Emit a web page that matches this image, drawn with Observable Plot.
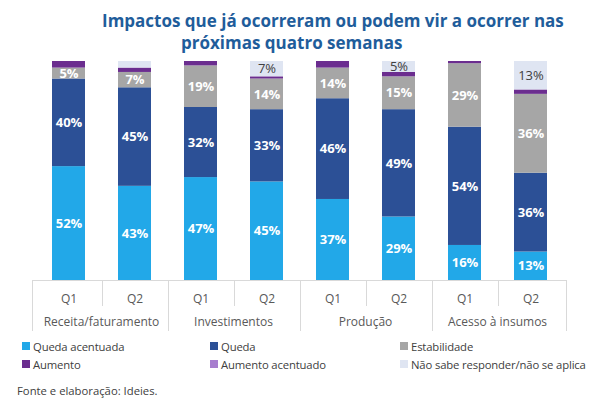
<!DOCTYPE html>
<html><head><meta charset="utf-8">
<script src="https://cdn.jsdelivr.net/npm/d3@7"></script>
<script src="https://cdn.jsdelivr.net/npm/@observablehq/plot@0.6"></script>
<style>
body{margin:0;background:#fff;font-family:"Open Sans",sans-serif;}
#wrap{position:relative;width:600px;height:407px;overflow:hidden;background:#fff;}
#chart{position:absolute;left:0;top:0;}
.title{position:absolute;font-weight:700;color:#1f5d9b;font-size:17px;line-height:22px;white-space:nowrap;}
#legend{position:absolute;left:22px;top:337px;display:grid;grid-template-columns:188px 190px auto;grid-auto-rows:18px;font-size:11.3px;letter-spacing:-0.15px;color:#404040;}
#legend div{display:flex;align-items:center;white-space:nowrap;}
#legend span.sw{display:inline-block;width:8px;height:8px;margin-right:3px;}
.src{position:absolute;left:17px;top:383px;font-size:11.3px;line-height:16px;color:#404040;}
</style></head><body>
<div id="wrap">
<div id="chart"></div>
<div class="title" style="left:102px;top:10px">Impactos que já ocorreram ou podem vir a ocorrer nas</div>
<div class="title" style="left:181px;top:32px">próximas quatro semanas</div>
<div id="legend"></div>
<div class="src">Fonte e elaboração: Ideies.</div>
</div>
<script>
const groups = ["Receita/faturamento", "Investimentos", "Produção", "Acesso à insumos"];
const quarters = ["Q1", "Q2"];
const series = ["Queda acentuada", "Queda", "Estabilidade", "Aumento", "Aumento acentuado", "Não sabe responder/não se aplica"];
const colors = ["#22a8e8", "#2c5096", "#a6a6a6", "#6b2d8f", "#a77dce", "#dfe5f2"];
// values in order: Receita Q1, Receita Q2, Invest Q1, Invest Q2, Produção Q1, Produção Q2, Acesso Q1, Acesso Q2
const quedaAcentuada   = [52, 43, 47, 45, 37, 29, 16, 13];
const queda            = [40, 45, 32, 33, 46, 49, 54, 36];
const estabilidade     = [5, 7, 19, 14, 14, 15, 29, 36];
const aumento          = [3, 2, 2, 1, 3, 2, 1, 2];
const aumentoAcentuado = [0, 0, 0, 0, 0, 0, 0, 0];
const naoSabe          = [0, 3, 0, 7, 0, 5, 0, 13];
const seriesValues = [quedaAcentuada, queda, estabilidade, aumento, aumentoAcentuado, naoSabe];

const keys = [];
groups.forEach(g => quarters.forEach(q => keys.push(g + "|" + q)));
const data = [];
series.forEach((s, si) => keys.forEach((k, ki) => data.push({key: k, series: s, value: seriesValues[si][ki]})));

const labelFmt = d => d.value >= 5 ? d.value + "%" : "";
const NS = series[5];

const plot = Plot.plot({
  width: 600,
  height: 340,
  marginTop: 61,
  marginBottom: 60,
  marginLeft: 32,
  marginRight: 34,
  style: {background: "transparent", fontFamily: "Open Sans, sans-serif"},
  x: {domain: keys, paddingInner: 0.5, paddingOuter: 0.25, axis: null},
  y: {domain: [0, 100], axis: null},
  color: {domain: series, range: colors},
  marks: [
    Plot.barY(data, {x: "key", y: "value", fill: "series", order: series}),
    Plot.text(data, Plot.stackY({x: "key", y: "value", z: "series", order: series,
      text: d => d.series === NS ? "" : labelFmt(d),
      fill: "white", fontWeight: "bold", fontSize: 13})),
    Plot.text(data, Plot.stackY({x: "key", y: "value", z: "series", order: series,
      text: d => d.series === NS ? labelFmt(d) : "",
      fill: "#404040", fontSize: 13})),
    Plot.axisX({domain: keys, tickSize: 0, tickPadding: 14, fontSize: 12, fill: "#595959",
      tickFormat: k => k.split("|")[1], label: null})
  ]
});
document.getElementById("chart").appendChild(plot);

// table-like axis lines and group labels from the x scale
const xs = plot.scale("x");
const yBase = plot.scale("y").apply(0);
const centers = keys.map(k => xs.apply(k) + xs.bandwidth / 2);
const [r0, r1] = xs.range;
const svg = d3.select(plot);
const g = svg.append("g").attr("stroke", "#d9d9d9").attr("stroke-width", 1);
g.append("line").attr("x1", r0).attr("x2", r1).attr("y1", yBase + 0.5).attr("y2", yBase + 0.5);
const bounds = [r0];
for (let i = 0; i < centers.length - 1; i++) bounds.push((centers[i] + centers[i + 1]) / 2);
bounds.push(r1);
bounds.forEach((b, i) => {
  const major = i % 2 === 0;
  g.append("line").attr("x1", Math.round(b) + 0.5).attr("x2", Math.round(b) + 0.5)
    .attr("y1", yBase).attr("y2", yBase + (major ? 51 : 26));
});
groups.forEach((gr, i) => {
  svg.append("text").attr("x", (centers[2 * i] + centers[2 * i + 1]) / 2).attr("y", yBase + 46)
    .attr("text-anchor", "middle").attr("font-size", 12).attr("fill", "#595959")
    .attr("font-family", "Open Sans, sans-serif").text(gr);
});

// legend
const legend = document.getElementById("legend");
series.forEach((s, i) => {
  const d = document.createElement("div");
  d.innerHTML = `<span class="sw" style="background:${colors[i]}"></span>${s}`;
  legend.appendChild(d);
});
</script>
</body></html>
